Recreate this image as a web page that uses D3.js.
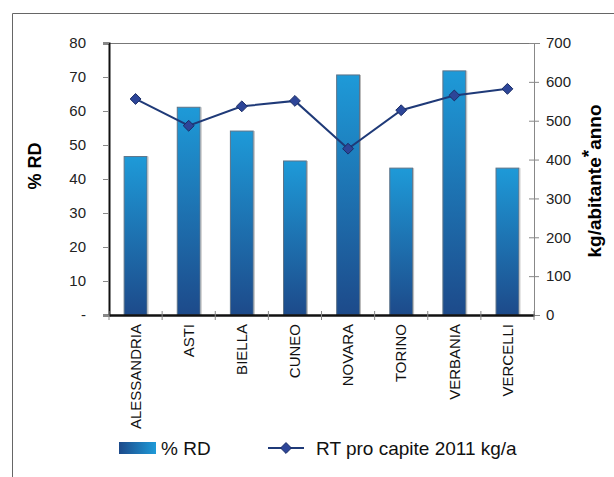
<!DOCTYPE html>
<html>
<head>
<meta charset="utf-8">
<script src="https://cdn.jsdelivr.net/npm/d3@7"></script>
<style>
  body { margin: 0; background: #fff; }
  text { font-family: "Liberation Sans", Arial, sans-serif; }
</style>
</head>
<body>
<div id="chart"></div>
<script>
// data
var province = ["ALESSANDRIA", "ASTI", "BIELLA", "CUNEO", "NOVARA", "TORINO", "VERBANIA", "VERCELLI"];
var percRD = [46.6, 61.1, 54.1, 45.3, 70.6, 43.2, 71.8, 43.2];
var rtProCapite = [556, 487, 537, 551, 428, 527, 565, 582];
var leftTicks = [0, 10, 20, 30, 40, 50, 60, 70, 80];
var rightTicks = [0, 100, 200, 300, 400, 500, 600, 700];

var W = 614, H = 477;
var margin = {top: 43, right: 80, bottom: 162, left: 109},
    width = W - margin.left - margin.right,
    height = H - margin.top - margin.bottom;

var svg = d3.select("#chart")
  .append("svg")
    .attr("width", W)
    .attr("height", H);

// outer frame (only top and left edges are visible)
svg.append("path")
  .attr("d", "M12.5," + H + " V13.5 H" + W)
  .attr("fill", "none")
  .attr("stroke", "#666")
  .attr("stroke-width", 1);

var defs = svg.append("defs");
var barGrad = defs.append("linearGradient")
  .attr("id", "barGrad").attr("x1", 0).attr("y1", 0).attr("x2", 0).attr("y2", 1);
barGrad.append("stop").attr("offset", "0%").attr("stop-color", "#1e9ad8");
barGrad.append("stop").attr("offset", "100%").attr("stop-color", "#1d4a8a");
var legGrad = defs.append("linearGradient")
  .attr("id", "legGrad").attr("x1", 0).attr("y1", 0).attr("x2", 1).attr("y2", 0);
legGrad.append("stop").attr("offset", "0%").attr("stop-color", "#1d4a8a");
legGrad.append("stop").attr("offset", "100%").attr("stop-color", "#1e9ad8");

var g = svg.append("g")
  .attr("transform", "translate(" + margin.left + "," + margin.top + ")");

var x = d3.scaleBand()
  .domain(province)
  .range([0, width])
  .paddingInner(0.57)
  .paddingOuter(0.285);

var y = d3.scaleLinear().domain([0, 80]).range([height, 0]);
var y2 = d3.scaleLinear().domain([0, 700]).range([height, 0]);

// top border of plot
g.append("line")
  .attr("x1", 0).attr("x2", width)
  .attr("y1", 0.5).attr("y2", 0.5)
  .attr("stroke", "#777");

// bars
g.selectAll("myBars")
  .data(province)
  .enter()
  .append("rect")
    .attr("x", function(d) { return x(d); })
    .attr("y", function(d, i) { return y(percRD[i]); })
    .attr("width", x.bandwidth())
    .attr("height", function(d, i) { return height - y(percRD[i]); })
    .style("fill", "url(#barGrad)")
    .attr("stroke", "#5d7388")
    .attr("stroke-width", 1);

// light shadow on right side of bars
g.selectAll("myShadows")
  .data(province)
  .enter()
  .append("line")
    .attr("x1", function(d) { return x(d) + x.bandwidth() + 1; })
    .attr("x2", function(d) { return x(d) + x.bandwidth() + 1; })
    .attr("y1", function(d, i) { return y(percRD[i]); })
    .attr("y2", height)
    .attr("stroke", "#bbb")
    .attr("stroke-width", 1);

// left axis
var leftAxis = g.append("g")
  .call(d3.axisLeft(y).tickValues(leftTicks).tickSize(6)
    .tickFormat(function(d) { return d === 0 ? "-" : d; }));
leftAxis.select(".domain").attr("stroke", "#111").attr("stroke-width", 2);
leftAxis.selectAll(".tick line").attr("stroke", "#888");
leftAxis.selectAll(".tick text")
  .style("font-size", "15px").attr("fill", "#222").attr("x", -23);

// right axis
var rightAxis = g.append("g")
  .attr("transform", "translate(" + width + ",0)")
  .call(d3.axisRight(y2).tickValues(rightTicks).tickSize(6));
rightAxis.select(".domain").attr("stroke", "#888");
rightAxis.selectAll(".tick line").attr("stroke", "#888").attr("x1", -5).attr("x2", 5);
rightAxis.selectAll(".tick text")
  .style("font-size", "15px").attr("fill", "#222").attr("x", 12);

// bottom axis with ticks between categories
var bottomAxis = g.append("g")
  .attr("transform", "translate(0," + height + ")")
  .call(d3.axisBottom(x).tickSize(0).tickPadding(10));
bottomAxis.select(".domain").attr("stroke", "#111").attr("stroke-width", 2.5);
bottomAxis.selectAll(".tick text")
  .style("font-size", "15px").attr("fill", "#111")
  .attr("transform", "rotate(-90)")
  .attr("text-anchor", "end")
  .attr("x", -9).attr("y", 0).attr("dy", "0.35em");
var step = x.step();
g.selectAll("myXTicks")
  .data(d3.range(province.length + 1))
  .enter()
  .append("line")
    .attr("x1", function(i) { return i * step; })
    .attr("x2", function(i) { return i * step; })
    .attr("y1", height - 4).attr("y2", height + 5)
    .attr("stroke", "#888");

// line series
var line = d3.line()
  .x(function(d, i) { return x(province[i]) + x.bandwidth() / 2; })
  .y(function(d) { return y2(d); });
g.append("path")
  .datum(rtProCapite)
  .attr("d", line)
  .attr("fill", "none")
  .attr("stroke", "#1f3a78")
  .attr("stroke-width", 2);

var diamond = d3.symbol().type(d3.symbolDiamond2).size(75);
g.selectAll("myDots")
  .data(rtProCapite)
  .enter()
  .append("path")
    .attr("d", diamond)
    .attr("transform", function(d, i) {
      return "translate(" + (x(province[i]) + x.bandwidth() / 2) + "," + y2(d) + ")";
    })
    .style("fill", "#2d4598")
    .attr("stroke", "#1b2d66")
    .attr("stroke-width", 1);

// axis titles
svg.append("text")
  .attr("transform", "translate(41,166) rotate(-90)")
  .style("text-anchor", "middle")
  .style("font-size", "18px").style("font-weight", "bold")
  .text("% RD");

var rt = svg.append("text")
  .attr("transform", "translate(601,181) rotate(-90)")
  .style("text-anchor", "middle")
  .style("font-size", "19px").style("font-weight", "bold");
rt.append("tspan").text("kg/abitante");
rt.append("tspan").attr("dy", -6).text("*");
rt.append("tspan").attr("dy", 6).text("anno");

// legend
var legY = 448;
svg.append("rect")
  .attr("x", 119).attr("y", legY - 6)
  .attr("width", 37).attr("height", 12)
  .style("fill", "url(#legGrad)");
svg.append("text")
  .attr("x", 161).attr("y", legY).attr("dy", "0.35em")
  .style("font-size", "19px").attr("fill", "#111")
  .text("% RD");
svg.append("line")
  .attr("x1", 268).attr("x2", 304)
  .attr("y1", legY).attr("y2", legY)
  .attr("stroke", "#1f3a78").attr("stroke-width", 2);
svg.append("path")
  .attr("d", diamond)
  .attr("transform", "translate(286," + legY + ")")
  .style("fill", "#2d4598").attr("stroke", "#1b2d66");
svg.append("text")
  .attr("x", 316).attr("y", legY).attr("dy", "0.35em")
  .style("font-size", "19px").attr("fill", "#111")
  .text("RT pro capite 2011 kg/a");
</script>
</body>
</html>
